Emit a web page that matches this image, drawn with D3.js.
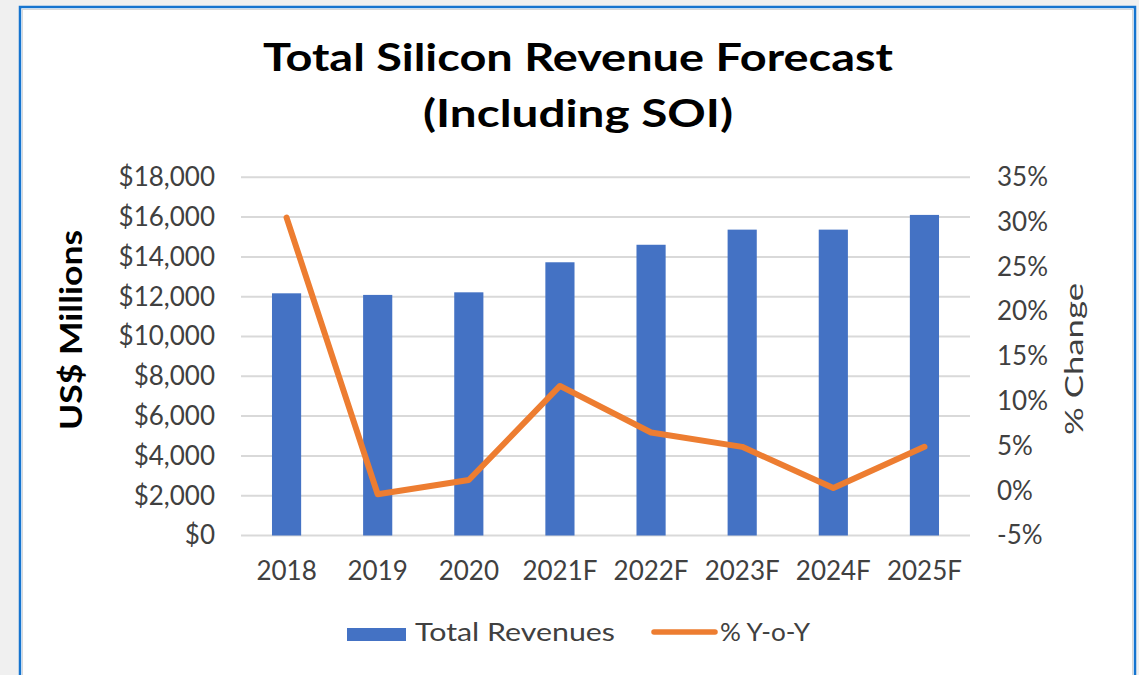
<!DOCTYPE html>
<html>
<head>
<meta charset="utf-8">
<script src="https://cdn.jsdelivr.net/npm/d3@7"></script>
<style>
  html, body { margin: 0; padding: 0; background: #f0f0f0; }
  svg { display: block; font-family: Lato, "DejaVu Sans", sans-serif; }
</style>
</head>
<body>
<svg id="svg" width="1139" height="675"></svg>
<script>
// Chart data
const years = ["2018", "2019", "2020", "2021F", "2022F", "2023F", "2024F", "2025F"];
const revenues = [12170, 12090, 12220, 13730, 14610, 15370, 15370, 16110];
const yoy = [30.5, -0.4, 1.2, 11.7, 6.5, 4.9, 0.3, 4.9];
const leftTicks = [0, 2000, 4000, 6000, 8000, 10000, 12000, 14000, 16000, 18000];
const rightTicks = [-5, 0, 5, 10, 15, 20, 25, 30, 35];

const colors = {
  bar: "#4472C4",
  line: "#ED7D31",
  grid: "#d9d9d9",
  text: "#404040"
}

const attr = {
  left: 241,
  right: 970,
  top: 177.3,
  bottom: 535.5
}

const svg = d3.select("svg#svg");

// Frame
svg.append("rect")
  .attr("x", 20).attr("y", 7)
  .attr("width", 1115).attr("height", 700)
  .style("fill", "#ffffff")
  .style("stroke", "#1574cf")
  .style("stroke-width", 2.5);
svg.append("rect")
  .attr("x", 22.5).attr("y", 9.5)
  .attr("width", 1110).attr("height", 700)
  .style("fill", "none")
  .style("stroke", "#d8d8d8")
  .style("stroke-width", 1);

// Scales
const x = d3.scaleBand()
  .domain(years)
  .range([attr.left, attr.right])
  .paddingInner(0.68)
  .paddingOuter(0.34);

const yL = d3.scaleLinear().domain([0, 18000]).range([attr.bottom, attr.top]);
const yR = d3.scaleLinear().domain([-5, 35]).range([attr.bottom, attr.top]);

// Gridlines
svg.append("g")
  .selectAll("line")
  .data(leftTicks)
  .enter()
  .append("line")
  .attr("x1", attr.left)
  .attr("x2", attr.right)
  .attr("y1", d => yL(d))
  .attr("y2", d => yL(d))
  .style("stroke", colors.grid)
  .style("stroke-width", 2);

// Left axis
const leftAxis = svg.append("g")
  .attr("transform", "translate(215,0)")
  .call(d3.axisLeft(yL).tickValues(leftTicks).tickFormat(d3.format("$,")).tickSize(0).tickPadding(0));
leftAxis.select(".domain").remove();
leftAxis.selectAll("text")
  .style("font-family", "Lato")
  .style("font-size", "26px")
  .style("fill", colors.text);

// Right axis
const rightAxis = svg.append("g")
  .attr("transform", "translate(997,0)")
  .call(d3.axisRight(yR).tickValues(rightTicks).tickFormat(d => d + "%").tickSize(0).tickPadding(0));
rightAxis.select(".domain").remove();
rightAxis.selectAll("text")
  .style("font-family", "Lato")
  .style("font-size", "26px")
  .style("fill", colors.text);

// Bottom axis
const bottomAxis = svg.append("g")
  .attr("transform", "translate(0,562)")
  .call(d3.axisBottom(x).tickSize(0).tickPadding(0));
bottomAxis.select(".domain").remove();
bottomAxis.selectAll("text")
  .attr("dy", "0.71em")
  .style("font-family", "Lato")
  .style("font-size", "26px")
  .style("fill", colors.text);

// Bars
svg.append("g")
  .selectAll("rect")
  .data(years)
  .enter()
  .append("rect")
  .attr("x", d => x(d))
  .attr("width", x.bandwidth())
  .attr("y", (d, i) => yL(revenues[i]))
  .attr("height", (d, i) => yL(0) - yL(revenues[i]))
  .style("fill", colors.bar);

// Line
const line = d3.line()
  .x((d, i) => x(years[i]) + x.bandwidth() / 2)
  .y(d => yR(d));

svg.append("path")
  .datum(yoy)
  .attr("d", line)
  .style("fill", "none")
  .style("stroke", colors.line)
  .style("stroke-width", 6)
  .style("stroke-linejoin", "round")
  .style("stroke-linecap", "round");

// Title
const title = svg.append("g")
  .style("font-family", "Lato")
  .style("font-weight", "bold")
  .style("font-size", "38px")
  .style("fill", "#000");
title.append("text")
  .attr("x", 578).attr("y", 71)
  .attr("text-anchor", "middle")
  .attr("textLength", 630)
  .attr("lengthAdjust", "spacingAndGlyphs")
  .text("Total Silicon Revenue Forecast");
title.append("text")
  .attr("x", 578).attr("y", 127)
  .attr("text-anchor", "middle")
  .attr("textLength", 310)
  .attr("lengthAdjust", "spacingAndGlyphs")
  .text("(Including SOI)");

// Axis titles
svg.append("text")
  .attr("transform", "translate(82,330) rotate(-90)")
  .attr("text-anchor", "middle")
  .attr("textLength", 200)
  .attr("lengthAdjust", "spacingAndGlyphs")
  .style("font-family", "Lato")
  .style("font-weight", "bold")
  .style("font-size", "31px")
  .style("fill", "#000")
  .text("US$ Millions");

svg.append("text")
  .attr("transform", "translate(1083,359) rotate(-90)")
  .attr("text-anchor", "middle")
  .attr("textLength", 152)
  .attr("lengthAdjust", "spacingAndGlyphs")
  .style("font-family", "Lato")
  .style("font-size", "25px")
  .style("fill", colors.text)
  .text("% Change");

// Legend
const legend = svg.append("g")
  .style("font-family", "Lato")
  .style("font-size", "25px")
  .style("fill", colors.text);

legend.append("rect")
  .attr("x", 347).attr("y", 628)
  .attr("width", 59).attr("height", 13)
  .style("fill", colors.bar);
legend.append("text")
  .attr("x", 415).attr("y", 641)
  .attr("textLength", 200)
  .attr("lengthAdjust", "spacingAndGlyphs")
  .text("Total Revenues");

legend.append("line")
  .attr("x1", 654).attr("x2", 715)
  .attr("y1", 632).attr("y2", 632)
  .style("stroke", colors.line)
  .style("stroke-width", 5.5)
  .style("stroke-linecap", "round");
legend.append("text")
  .attr("x", 720).attr("y", 641)
  .attr("textLength", 90)
  .attr("lengthAdjust", "spacingAndGlyphs")
  .text("% Y-o-Y");
</script>
</body>
</html>
